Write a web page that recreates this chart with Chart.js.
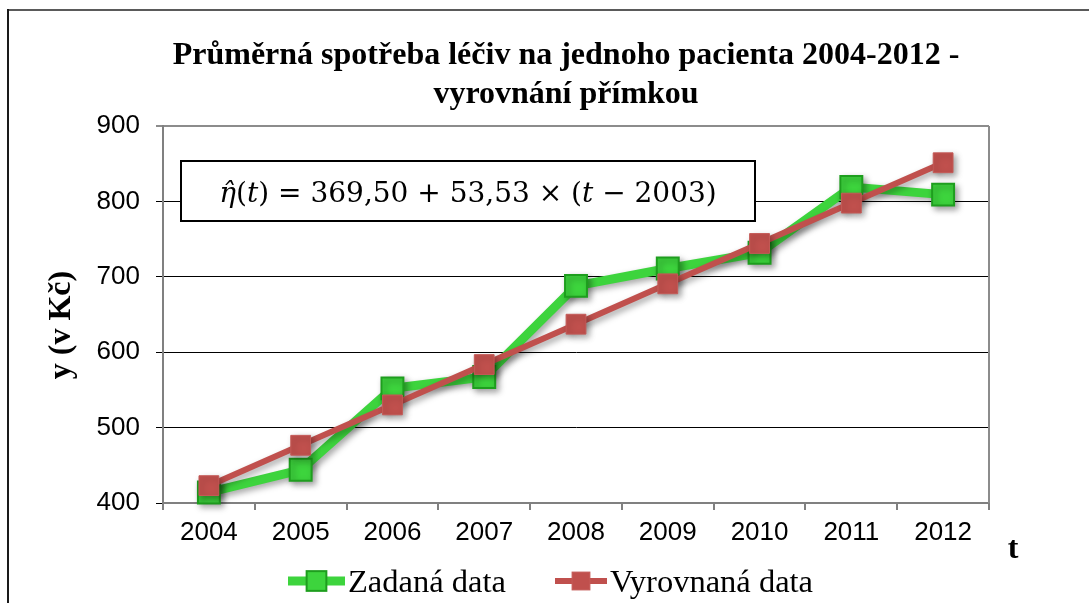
<!DOCTYPE html>
<html><head><meta charset="utf-8">
<script src="https://cdn.jsdelivr.net/npm/chart.js@4"></script>
<style>html,body{margin:0;padding:0;background:#fff}#wrap{width:1089px;height:603px;position:relative}</style>
</head><body><div id="wrap"><canvas id="c" width="1089" height="603"></canvas></div>
<script>
const categories = ['2004','2005','2006','2007','2008','2009','2010','2011','2012'];
const givenData = [414, 444, 552, 567, 688, 711, 732, 819, 809];
const fittedData = [423.03, 476.56, 530.09, 583.62, 637.15, 690.68, 744.21, 797.74, 851.27];
const yTicks = [400, 500, 600, 700, 800, 900];
const titleLines = ['Průměrná spotřeba léčiv na jednoho pacienta 2004-2012 -', 'vyrovnání přímkou'];
const yAxisTitle = 'y (v Kč)';
const xAxisTitle = 't';
const seriesLabels = ['Zadaná data', 'Vyrovnaná data'];
const equationParts = [['η̂', true], ['(', false], ['t', true], [') = 369,50 + 53,53 × (', false], ['t', true], [' − 2003)', false]];

const GREEN = '#3dd43d', GREEN_DARK = '#1e9e1e', RED = '#c0504d';

const decor = {
  id: 'decor',
  beforeDraw(chart) {
    const ctx = chart.ctx;
    ctx.save();
    ctx.fillStyle = '#fff';
    ctx.fillRect(0, 0, chart.width, chart.height);
    ctx.strokeStyle = '#5a5a5a'; ctx.lineWidth = 2;
    ctx.beginPath(); ctx.moveTo(8, 10); ctx.lineTo(chart.width, 10); ctx.stroke();
    ctx.strokeStyle = '#1a1a1a';
    ctx.beginPath(); ctx.moveTo(8, 9); ctx.lineTo(8, chart.height); ctx.stroke();
    ctx.restore();
  },
  beforeDatasetsDraw(chart) {
    const ctx = chart.ctx, a = chart.chartArea;
    ctx.save();
    ctx.strokeStyle = '#8c8c8c'; ctx.lineWidth = 2;
    ctx.beginPath(); ctx.moveTo(a.right, a.top); ctx.lineTo(a.right, a.bottom); ctx.stroke();
    const bx = a.left + 18, by = a.top + 35, bw = 574, bh = 60;
    ctx.fillStyle = '#fff'; ctx.fillRect(bx, by, bw, bh);
    ctx.strokeStyle = '#000'; ctx.lineWidth = 2; ctx.strokeRect(bx, by, bw, bh);
    ctx.fillStyle = '#000'; ctx.textBaseline = 'alphabetic'; ctx.textAlign = 'left';
    const fN = '28px "DejaVu Serif"', fI = 'italic 28px "DejaVu Serif"';
    let total = 0;
    equationParts.forEach(p => { ctx.font = p[1] ? fI : fN; total += ctx.measureText(p[0]).width; });
    let x = bx + bw / 2 - total / 2;
    equationParts.forEach(p => { ctx.font = p[1] ? fI : fN; ctx.fillText(p[0], x, by + 41); x += ctx.measureText(p[0]).width; });
    ctx.restore();
  },
  afterDraw(chart) {
    const ctx = chart.ctx;
    ctx.save();
    ctx.fillStyle = '#000';
    ctx.font = 'bold 32px "Liberation Serif"'; ctx.textAlign = 'center'; ctx.textBaseline = 'alphabetic';
    ctx.fillText(titleLines[0], 566, 64);
    ctx.fillText(titleLines[1], 566, 103);
    ctx.save(); ctx.translate(62, 325); ctx.rotate(-Math.PI / 2);
    ctx.textBaseline = 'middle'; ctx.fillText(yAxisTitle, 0, 0); ctx.restore();
    ctx.fillText(xAxisTitle, 1013, 558);
    const items = [
      {ds: chart.data.datasets[1], x1: 288, x2: 345, tx: 348},
      {ds: chart.data.datasets[0], x1: 555, x2: 607, tx: 610}
    ];
    const ly = 581;
    items.forEach(it => {
      const ds = it.ds;
      ctx.strokeStyle = ds.borderColor; ctx.lineWidth = ds.borderWidth; ctx.lineCap = 'butt';
      ctx.beginPath(); ctx.moveTo(it.x1, ly); ctx.lineTo(it.x2, ly); ctx.stroke();
      const s = ds.pointRadius * Math.SQRT1_2 * 0.9, cx = (it.x1 + it.x2) / 2;
      ctx.fillStyle = ds.pointBackgroundColor; ctx.fillRect(cx - s, ly - s, 2 * s, 2 * s);
      ctx.strokeStyle = ds.pointBorderColor; ctx.lineWidth = ds.pointBorderWidth; ctx.strokeRect(cx - s, ly - s, 2 * s, 2 * s);
      ctx.fillStyle = '#000'; ctx.font = '32.5px "Liberation Serif"'; ctx.textAlign = 'left'; ctx.textBaseline = 'alphabetic';
      ctx.fillText(ds.label, it.tx, 592);
    });
    ctx.restore();
  }
};

const shadow = {
  id: 'shadow',
  beforeDatasetDraw(chart) {
    const ctx = chart.ctx; ctx.save();
    ctx.shadowColor = 'rgba(0,0,0,0.35)'; ctx.shadowBlur = 6; ctx.shadowOffsetX = 3; ctx.shadowOffsetY = 3;
  },
  afterDatasetDraw(chart) { chart.ctx.restore(); }
};

new Chart(document.getElementById('c'), {
  type: 'line',
  data: {
    labels: categories,
    datasets: [
      {label: seriesLabels[1], data: fittedData, order: 0, borderColor: RED, borderWidth: 6,
       pointStyle: 'rect', pointRadius: 14, pointBackgroundColor: RED, pointBorderColor: '#c45a57', pointBorderWidth: 1,
       tension: 0, clip: false},
      {label: seriesLabels[0], data: givenData, order: 1, borderColor: GREEN, borderWidth: 9,
       pointStyle: 'rect', pointRadius: 15.5, pointBackgroundColor: GREEN, pointBorderColor: GREEN_DARK, pointBorderWidth: 2,
       tension: 0, clip: false}
    ]
  },
  options: {
    responsive: false, animation: false, devicePixelRatio: 1,
    layout: {padding: {top: 126, right: 100, bottom: 0, left: 0}},
    plugins: {legend: {display: false}, title: {display: false}, tooltip: {enabled: false}},
    scales: {
      x: {
        type: 'category', offset: true,
        grid: {offset: true, drawOnChartArea: false, drawTicks: true, tickLength: 7, color: '#808080', lineWidth: 2},
        border: {display: true, color: '#808080', width: 2},
        ticks: {font: {family: 'Liberation Sans', size: 26}, color: '#000', padding: 7, maxRotation: 0, autoSkip: false},
        afterFit: s => { s.height = 100; }
      },
      y: {
        min: yTicks[0], max: yTicks[yTicks.length - 1],
        afterBuildTicks: s => { s.ticks = yTicks.map(v => ({value: v})); },
        grid: {color: c => c.tick && c.tick.value === 900 ? '#8c8c8c' : '#000',
               lineWidth: c => c.tick && c.tick.value === 900 ? 2 : 1, tickLength: 7},
        border: {display: true, color: '#808080', width: 2},
        ticks: {font: {family: 'Liberation Sans', size: 26}, color: '#000', padding: 16},
        afterFit: s => { s.width = 163; }
      }
    }
  },
  plugins: [decor, shadow]
});
</script></body></html>
